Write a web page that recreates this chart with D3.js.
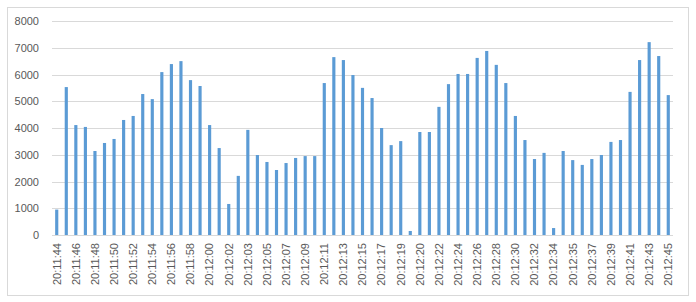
<!DOCTYPE html>
<html>
<head>
<meta charset="utf-8">
<script src="https://cdn.jsdelivr.net/npm/d3@7/dist/d3.min.js"></script>
<style>
  body { margin: 0; background: #fff; }
  text { font-family: "Liberation Sans", Arial, sans-serif; fill: #595959; }
</style>
</head>
<body>
<div id="chart"></div>
<script>
// time labels (only every other one is printed on the axis)
var times = [
    "20:11:44", "20:11:45", "20:11:46", "20:11:47", "20:11:48", "20:11:49", "20:11:50", "20:11:51",
    "20:11:52", "20:11:53", "20:11:54", "20:11:55", "20:11:56", "20:11:57", "20:11:58", "20:11:59",
    "20:12:00", "20:12:01", "20:12:02", "20:12:02", "20:12:03", "20:12:04", "20:12:05", "20:12:06",
    "20:12:07", "20:12:08", "20:12:09", "20:12:10", "20:12:11", "20:12:12", "20:12:13", "20:12:14",
    "20:12:15", "20:12:16", "20:12:17", "20:12:18", "20:12:19", "20:12:19", "20:12:20", "20:12:21",
    "20:12:22", "20:12:23", "20:12:24", "20:12:25", "20:12:26", "20:12:27", "20:12:28", "20:12:29",
    "20:12:30", "20:12:31", "20:12:32", "20:12:33", "20:12:34", "20:12:34", "20:12:35", "20:12:36",
    "20:12:37", "20:12:38", "20:12:39", "20:12:40", "20:12:41", "20:12:42", "20:12:43", "20:12:44",
    "20:12:45"
];

var values = [
    950, 5530, 4110, 4040, 3140, 3440, 3590, 4300, 4450, 5270, 5080, 6090, 6390, 6500, 5790, 5570,
    4110, 3250, 1160, 2210, 3930, 2990, 2730, 2430, 2690, 2880, 2950, 2950, 5680, 6650, 6540, 5980,
    5500, 5120, 4000, 3360, 3510, 150, 3850, 3850, 4790, 5640, 6020, 6020, 6620, 6880, 6360, 5680,
    4450, 3550, 2840, 3070, 260, 3140, 2800, 2620, 2840, 2990, 3480, 3550, 5350, 6540, 7210, 6690,
    5230
];

var yTicks = [0, 1000, 2000, 3000, 4000, 5000, 6000, 7000, 8000];

var chart_width = 696;
var chart_height = 302;
var margin = { top: 21, right: 23, bottom: 67, left: 52 };
var width = chart_width - margin.left - margin.right;
var height = chart_height - margin.top - margin.bottom;

var svg = d3.select("#chart")
    .append("svg")
    .attr("width", chart_width)
    .attr("height", chart_height);

// chart border
svg.append("rect")
    .attr("x", 7.5)
    .attr("y", 7.5)
    .attr("width", 681)
    .attr("height", 288)
    .attr("fill", "#fff")
    .attr("stroke", "#D9D9D9");

var plot = svg.append("g")
    .attr("transform", "translate(" + margin.left + "," + margin.top + ")");

var x = d3.scaleBand()
    .domain(d3.range(values.length))
    .range([0, width])
    .paddingInner(0.67)
    .paddingOuter(0.33);

var y = d3.scaleLinear()
    .domain([0, 8000])
    .range([height, 0]);

// gridlines
plot.append("g")
    .selectAll("line")
    .data(yTicks)
    .enter()
    .append("line")
    .attr("x1", 0)
    .attr("x2", width)
    .attr("y1", function (d) { return Math.round(y(d)) + 0.5; })
    .attr("y2", function (d) { return Math.round(y(d)) + 0.5; })
    .attr("stroke", "#D9D9D9")
    .attr("stroke-width", 1);

// bars
plot.append("g")
    .selectAll("rect")
    .data(values)
    .enter()
    .append("rect")
    .attr("x", function (d, i) { return x(i); })
    .attr("y", function (d) { return y(d); })
    .attr("width", x.bandwidth())
    .attr("height", function (d) { return height - y(d); })
    .attr("fill", "#5B9BD5");

// Y axis
var yAxis = d3.axisLeft(y)
    .tickValues(yTicks)
    .tickSize(0)
    .tickPadding(13)
    .tickFormat(d3.format("d"));

plot.append("g")
    .call(yAxis)
    .call(function (g) { g.select(".domain").remove(); })
    .selectAll("text")
    .style("font-size", "11px")
    .attr("fill", "#595959");

// X axis, every other label
var xAxis = d3.axisBottom(x)
    .tickValues(d3.range(0, values.length, 2))
    .tickSize(0)
    .tickFormat(function (i) { return times[i]; });

plot.append("g")
    .attr("transform", "translate(0," + height + ")")
    .call(xAxis)
    .call(function (g) { g.select(".domain").remove(); })
    .selectAll("text")
    .style("font-size", "11px")
    .attr("fill", "#595959")
    .attr("text-anchor", "end")
    .attr("y", 0)
    .attr("dx", "-8px")
    .attr("dy", "0.35em")
    .attr("transform", "rotate(-90)");
</script>
</body>
</html>
